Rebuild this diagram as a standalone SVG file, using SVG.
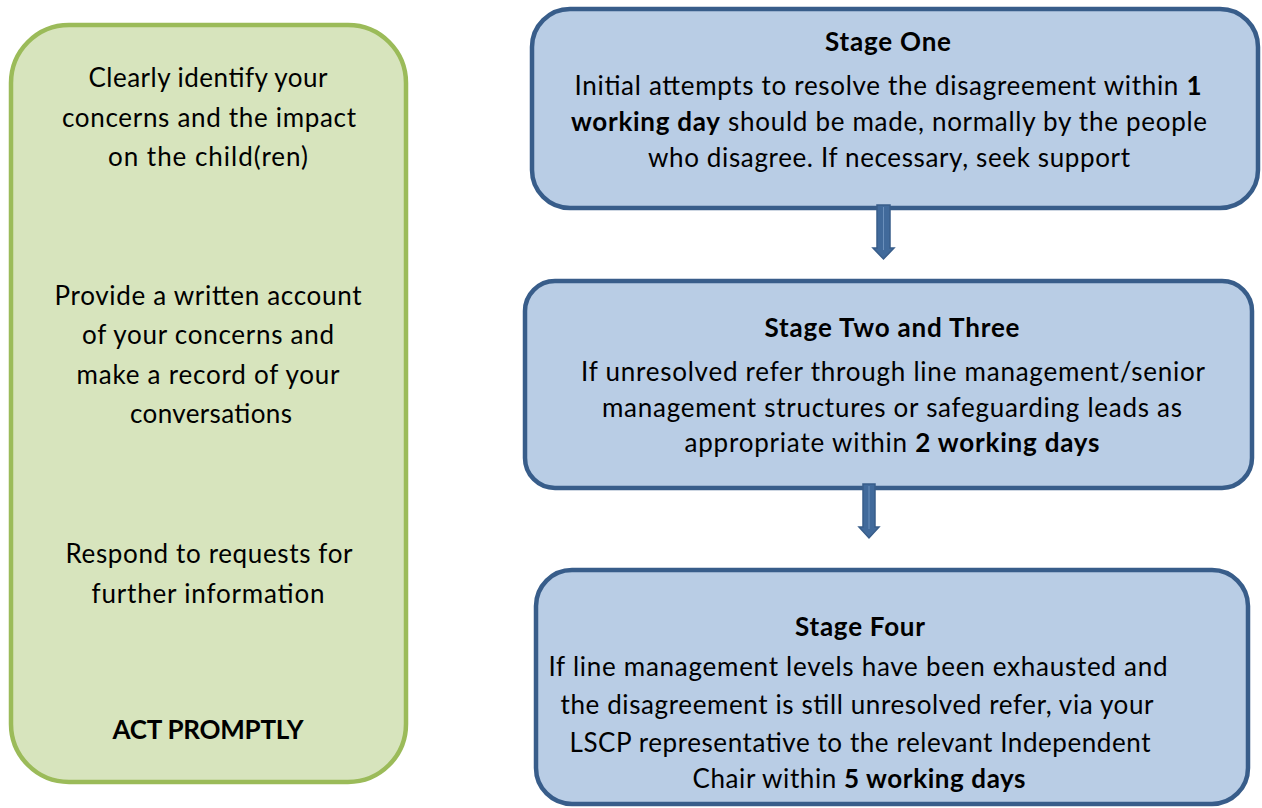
<svg xmlns="http://www.w3.org/2000/svg" width="1262" height="808" viewBox="0 0 1262 808">
<style>
.t{font-family:Lato,"Noto Sans","Liberation Sans",sans-serif;font-size:26px;fill:#000;text-anchor:middle}
.b{font-weight:bold}
.blue{fill:#b9cde5;stroke:#385d8a;stroke-width:4.5}
.green{fill:#d7e4bd;stroke:#9bbb59;stroke-width:4.5}
.arr{fill:#416a9b;stroke:#385d8a;stroke-width:1.5}
</style>
<rect width="1262" height="808" fill="#fff"/>
<g id="left">
<rect class="green" x="11" y="25" width="395" height="757" rx="58" ry="58"/>
<text class="t" x="208" y="87" textLength="239" lengthAdjust="spacing">Clearly identify your</text>
<text class="t" x="209" y="127" textLength="294" lengthAdjust="spacing">concerns and the impact</text>
<text class="t" x="208" y="166" textLength="200" lengthAdjust="spacing">on the child(ren)</text>
<text class="t" x="208" y="305" textLength="307" lengthAdjust="spacing">Provide a written account</text>
<text class="t" x="208" y="344" textLength="252" lengthAdjust="spacing">of your concerns and</text>
<text class="t" x="208" y="384" textLength="263" lengthAdjust="spacing">make a record of your</text>
<text class="t" x="211" y="423" textLength="162" lengthAdjust="spacing">conversations</text>
<text class="t" x="209" y="563" textLength="287" lengthAdjust="spacing">Respond to requests for</text>
<text class="t" x="208" y="603" textLength="233" lengthAdjust="spacing">further information</text>
<text class="t b" x="208" y="739" textLength="191" lengthAdjust="spacing">ACT PROMPTLY</text>
</g>
<g id="stage1">
<rect class="blue" x="532" y="9" width="726" height="199" rx="38" ry="38"/>
<text class="t b" x="888" y="51" textLength="126" lengthAdjust="spacing">Stage One</text>
<text class="t" x="888" y="95" textLength="627" lengthAdjust="spacing">Initial attempts to resolve the disagreement within <tspan class="b">1</tspan></text>
<text class="t" x="889" y="131" textLength="636" lengthAdjust="spacing"><tspan class="b">working day</tspan> should be made, normally by the people</text>
<text class="t" x="889" y="167" textLength="482" lengthAdjust="spacing">who disagree. If necessary, seek support</text>
</g>
<g id="stage23">
<rect class="blue" x="525" y="281" width="727" height="207" rx="30" ry="30"/>
<text class="t b" x="892" y="337" textLength="255" lengthAdjust="spacing">Stage Two and Three</text>
<text class="t" x="893" y="381" textLength="624" lengthAdjust="spacing">If unresolved refer through line management/senior</text>
<text class="t" x="892" y="417" textLength="580" lengthAdjust="spacing">management structures or safeguarding leads as</text>
<text class="t" x="892" y="452" textLength="415" lengthAdjust="spacing">appropriate within <tspan class="b">2 working days</tspan></text>
</g>
<g id="stage4">
<rect class="blue" x="536" y="570" width="712" height="234" rx="36" ry="36"/>
<text class="t b" x="860" y="636" textLength="130" lengthAdjust="spacing">Stage Four</text>
<text class="t" x="858" y="676" textLength="619" lengthAdjust="spacing">If line management levels have been exhausted and</text>
<text class="t" x="857" y="714" textLength="593" lengthAdjust="spacing">the disagreement is still unresolved refer, via your</text>
<text class="t" x="860" y="752" textLength="581" lengthAdjust="spacing">LSCP representative to the relevant Independent</text>
<text class="t" x="859" y="788" textLength="333" lengthAdjust="spacing">Chair within <tspan class="b">5 working days</tspan></text>
</g>
<g id="connectors">
<polygon class="arr" points="877,205 890,205 890,248 894,248 883.5,259 873,248 877,248"/>
<line x1="883.5" y1="207" x2="883.5" y2="250" stroke="#6a8fbb" stroke-width="1"/>
<polygon class="arr" points="863,484 875,484 875,527 879,527 869,538 859,527 863,527"/>
<line x1="869" y1="486" x2="869" y2="529" stroke="#6a8fbb" stroke-width="1"/>
</g>
</svg>
